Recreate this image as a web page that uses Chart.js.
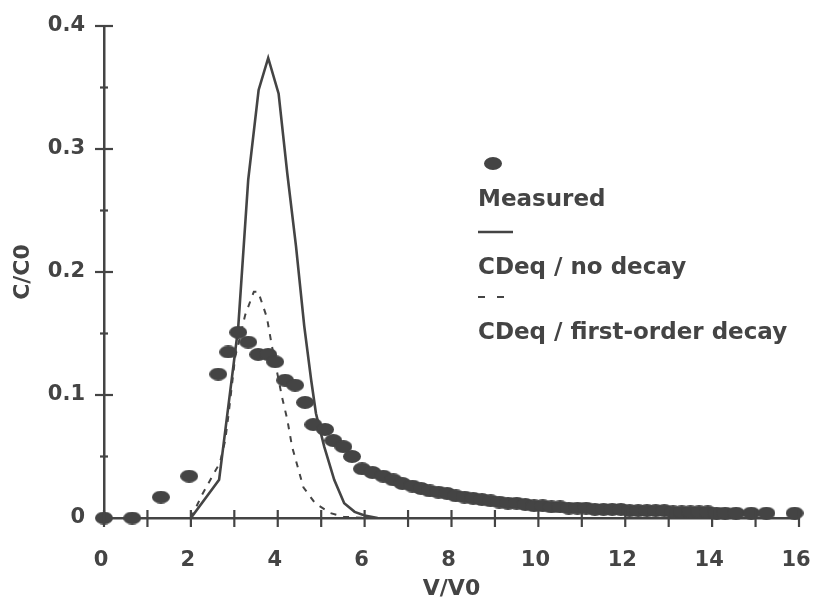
<!DOCTYPE html>
<html>
<head>
<meta charset="utf-8">
<script src="https://cdn.jsdelivr.net/npm/chart.js@4.4.1/dist/chart.umd.min.js"></script>
<style>
  html, body { margin: 0; padding: 0; background: #ffffff; }
  #wrap { position: relative; width: 817px; height: 605px; }
</style>
</head>
<body>
<div id="wrap"><canvas id="chart" width="817" height="605"></canvas></div>
<script>
/* -------------------------------------------------------
   DATA: measured breakthrough (V/V0, C/C0)
------------------------------------------------------- */
const measuredX = [0, 0.65, 1.31, 1.96, 2.63, 2.86, 3.09, 3.32, 3.55, 3.78, 3.94, 4.17, 4.4, 4.63,
  4.82, 5.09, 5.28, 5.51, 5.71, 5.94, 6.18, 6.43, 6.66, 6.87, 7.1, 7.3, 7.5, 7.7, 7.9, 8.1, 8.3,
  8.5, 8.7, 8.9, 9.1, 9.3, 9.5, 9.7, 9.9, 10.1, 10.3, 10.5, 10.7, 10.9, 11.1, 11.3, 11.5, 11.7,
  11.9, 12.1, 12.3, 12.5, 12.7, 12.9, 13.1, 13.3, 13.5, 13.7, 13.9, 14.1, 14.3, 14.55, 14.9,
  15.25, 15.9];
const measuredY = [0, 0, 0.017, 0.034, 0.117, 0.135, 0.151, 0.143, 0.133, 0.133, 0.127, 0.112,
  0.108, 0.094, 0.076, 0.072, 0.063, 0.058, 0.05, 0.04, 0.037, 0.034, 0.031, 0.028, 0.026, 0.024,
  0.022, 0.021, 0.02, 0.018, 0.017, 0.016, 0.015, 0.014, 0.013, 0.012, 0.012, 0.011, 0.01, 0.01,
  0.009, 0.009, 0.008, 0.008, 0.008, 0.007, 0.007, 0.007, 0.007, 0.006, 0.006, 0.006, 0.006,
  0.006, 0.005, 0.005, 0.005, 0.005, 0.005, 0.004, 0.004, 0.004, 0.004, 0.004, 0.004];

/* DATA: CDeq, no decay (solid) */
const noDecayX = [2.0, 2.65, 3.09, 3.32, 3.56, 3.78, 4.02, 4.22, 4.42, 4.61, 4.77, 4.88, 5.07,
  5.3, 5.53, 5.77, 6.0, 6.3];
const noDecayY = [0, 0.031, 0.155, 0.275, 0.348, 0.374, 0.345, 0.28, 0.221, 0.156, 0.112, 0.085,
  0.058, 0.031, 0.012, 0.005, 0.002, 0];

/* DATA: CDeq, first-order decay (dashed) */
const decayX = [2.0, 2.26, 2.51, 2.67, 2.79, 2.86, 3.02, 3.25, 3.45, 3.55, 3.75, 3.87, 4.1, 4.22,
  4.33, 4.59, 4.86, 5.21, 5.51, 6.0];
const decayY = [0, 0.019, 0.035, 0.045, 0.063, 0.082, 0.131, 0.165, 0.184, 0.184, 0.163, 0.139,
  0.098, 0.08, 0.058, 0.025, 0.012, 0.004, 0.001, 0];

/* Axis ticks */
const xTickStep = 2;
const xMinorStep = 1;
const yTickStep = 0.1;
const yMinorStep = 0.05;

const INK = "#444444";
const FONT = "'DejaVu Sans', sans-serif";

Chart.defaults.font.family = FONT;
Chart.defaults.font.weight = "bold";
Chart.defaults.color = INK;

const toPoints = (xs, ys) => xs.map((x, i) => ({ x: x, y: ys[i] }));

/* elliptical marker like the scanned dots */
function makeDot(w, h) {
  const c = document.createElement("canvas");
  c.width = w; c.height = h;
  const g = c.getContext("2d");
  g.fillStyle = INK;
  g.beginPath();
  g.ellipse(w / 2, h / 2, w / 2, h / 2, 0, 0, Math.PI * 2);
  g.fill();
  return c;
}
const dot = makeDot(18, 13);

/* -------------------------------------------------------
   PLUGIN: ticks crossing the axis lines
------------------------------------------------------- */
const crossTicks = {
  id: "crossTicks",
  afterDraw(chart) {
    const { ctx, scales: { x, y } } = chart;
    const x0 = x.getPixelForValue(0);
    const y0 = y.getPixelForValue(0);
    ctx.save();
    ctx.strokeStyle = INK;
    ctx.lineWidth = 2.2;
    for (let v = x.min; v <= x.max + 1e-9; v += xMinorStep) {
      const px = x.getPixelForValue(v);
      ctx.beginPath();
      ctx.moveTo(px, y0 - 8);
      ctx.lineTo(px, y0 + 9);
      ctx.stroke();
    }
    const n = Math.round((y.max - y.min) / yMinorStep);
    for (let i = 1; i <= n; i++) {
      const v = y.min + i * yMinorStep;
      const py = y.getPixelForValue(v);
      const len = i % 2 === 0 ? 9 : 4;
      ctx.beginPath();
      ctx.moveTo(x0 - len, py);
      ctx.lineTo(x0 + len, py);
      ctx.stroke();
    }
    ctx.restore();
  },
};

/* -------------------------------------------------------
   PLUGIN: stacked legend (symbol above label)
------------------------------------------------------- */
const stackedLegend = {
  id: "stackedLegend",
  afterDraw(chart) {
    const ctx = chart.ctx;
    const left = 478;
    ctx.save();
    ctx.fillStyle = INK;
    ctx.strokeStyle = INK;
    ctx.font = "bold 23px " + FONT;
    ctx.textBaseline = "middle";
    ctx.textAlign = "left";

    ctx.drawImage(dot, 484, 157);
    ctx.fillText("Measured", left, 200);

    ctx.lineWidth = 2.5;
    ctx.beginPath();
    ctx.moveTo(left, 232);
    ctx.lineTo(left + 35, 232);
    ctx.stroke();
    ctx.fillText("CDeq / no decay", left, 268);

    ctx.lineWidth = 2;
    ctx.beginPath();
    ctx.moveTo(left, 297); ctx.lineTo(left + 7, 297);
    ctx.moveTo(left + 19, 297); ctx.lineTo(left + 26, 297);
    ctx.stroke();
    ctx.fillText("CDeq / first-order decay", left, 333);
    ctx.restore();
  },
};

new Chart(document.getElementById("chart"), {
  type: "scatter",
  data: {
    datasets: [
      {
        label: "Measured",
        data: toPoints(measuredX, measuredY),
        pointStyle: dot,
        pointRadius: 9,
        showLine: false,
        clip: false,
      },
      {
        label: "CDeq / no decay",
        data: toPoints(noDecayX, noDecayY),
        showLine: true,
        borderColor: INK,
        borderWidth: 2.6,
        pointRadius: 0,
        tension: 0,
      },
      {
        label: "CDeq / first-order decay",
        data: toPoints(decayX, decayY),
        showLine: true,
        borderColor: INK,
        borderWidth: 2,
        borderDash: [6, 7],
        pointRadius: 0,
        tension: 0,
      },
    ],
  },
  options: {
    responsive: false,
    animation: false,
    events: [],
    layout: { padding: { top: 26, right: 0, left: 0, bottom: 0 } },
    plugins: {
      legend: { display: false } /* custom legend plugin */,
      tooltip: { enabled: false },
    },
    scales: {
      x: {
        type: "linear",
        min: 0,
        max: 16,
        grid: { display: false },
        border: { display: true, color: INK, width: 2.5 },
        ticks: {
          stepSize: xTickStep,
          padding: 22,
          labelOffset: -3,
          color: INK,
          font: { size: 21, weight: "bold" },
        },
        title: {
          display: true,
          text: "V/V0",
          color: INK,
          font: { size: 22, weight: "bold" },
          padding: { top: 0, bottom: 3 },
        },
        afterFit: (s) => {
          s.height = 87;
          s.paddingLeft = 0;
          s.paddingRight = 18;
        },
      },
      y: {
        min: 0,
        max: 0.4,
        grid: { display: false },
        border: { display: true, color: INK, width: 2.5 },
        ticks: {
          stepSize: yTickStep,
          padding: 11,
          color: INK,
          font: { size: 21, weight: "bold" },
        },
        title: {
          display: true,
          text: "C/C0",
          color: INK,
          font: { size: 22, weight: "bold" },
          padding: { top: 10, bottom: 0 },
        },
        afterFit: (s) => {
          s.width = 104;
          s.paddingTop = 0;
          s.paddingBottom = 0;
        },
      },
    },
  },
  plugins: [crossTicks, stackedLegend],
});
</script>
</body>
</html>
